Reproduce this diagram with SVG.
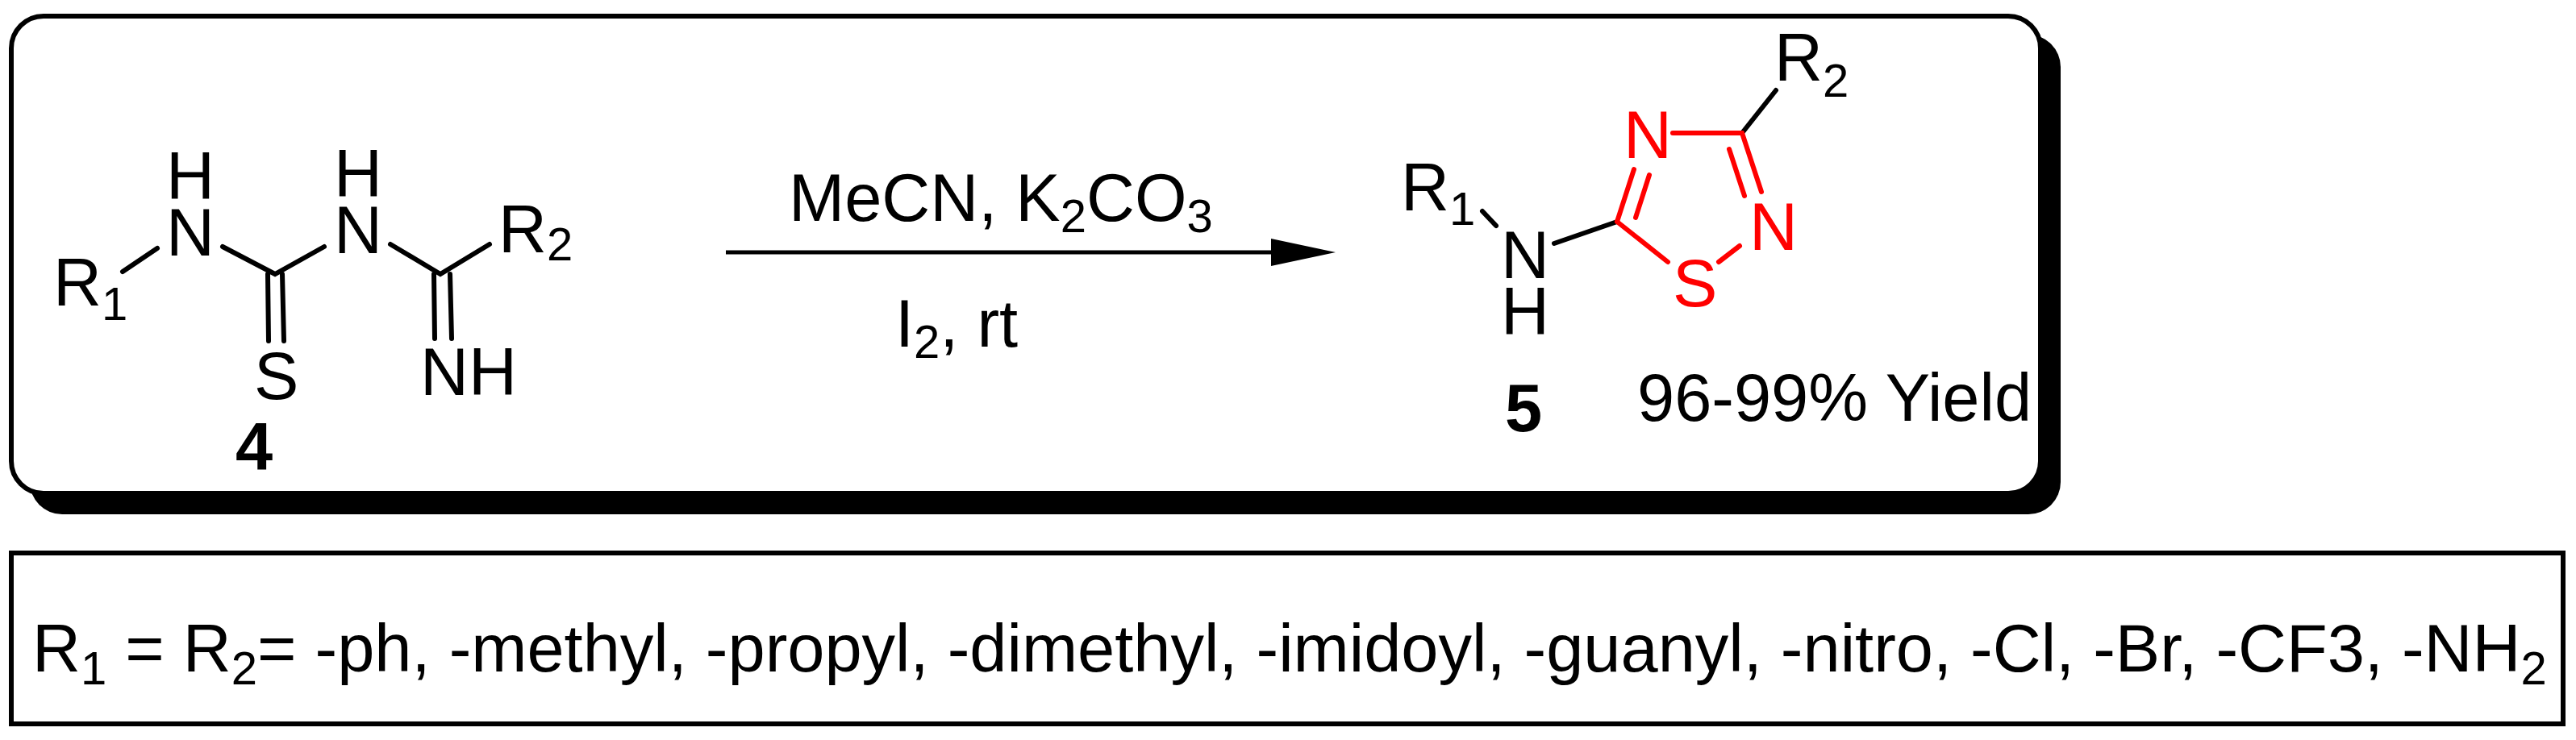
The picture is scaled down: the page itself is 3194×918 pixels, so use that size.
<svg xmlns="http://www.w3.org/2000/svg" width="3194" height="918" viewBox="0 0 3194 918">
<style>
text{font-family:"Liberation Sans",Arial,sans-serif;font-size:83px;fill:#000}
.sub{font-size:58px}
.b{font-weight:bold}
.red{fill:#f00}
.bd{stroke:#000;stroke-width:6;stroke-linecap:round;fill:none}
.rb{stroke:#f00;stroke-width:6;stroke-linecap:round;fill:none}
</style>
<g id="frame">
<rect x="37" y="43" width="2518" height="595" rx="40" fill="#000"/>
<rect x="14" y="20" width="2516" height="592" rx="40" fill="#fff" stroke="#000" stroke-width="6"/>
<rect x="14" y="686" width="3164" height="212" fill="#fff" stroke="#000" stroke-width="6"/>
</g>
<g id="reactant">
<text x="206" y="247">H</text>
<text x="206" y="317">N</text>
<text x="414" y="244">H</text>
<text x="414" y="314">N</text>
<text x="618" y="313">R<tspan class="sub" dy="10">2</tspan></text>
<text x="66" y="379">R<tspan class="sub" dy="18">1</tspan></text>
<text x="315" y="495">S</text>
<text x="521" y="490">NH</text>
<text x="292" y="583" class="b">4</text>
<g class="bd">
<path d="M152,337 L195,308"/><path d="M276,306 L341,340 L402,306"/>
<path d="M332,340 L333,423 M350,340 L352,423"/>
<path d="M484,303 L546,340 L607,303"/>
<path d="M538,340 L539,420 M558,340 L560,420"/>
</g>
</g>
<g id="connectors">
<line x1="900" y1="313" x2="1590" y2="313" stroke="#000" stroke-width="5"/>
<path d="M1576,296 L1656,313 L1576,330 z" fill="#000"/>
</g>
<g id="conditions">
<text x="978" y="274">MeCN, K<tspan class="sub" dy="14">2</tspan><tspan dy="-14">CO</tspan><tspan class="sub" dy="14">3</tspan></text>
<text x="1110" y="430">I<tspan class="sub" dy="14">2</tspan><tspan dy="-14">, rt</tspan></text>
</g>
<g id="product">
<text x="1737" y="261">R<tspan class="sub" dy="18">1</tspan></text>
<text x="1861" y="345">N</text>
<text x="1861" y="415">H</text>
<text x="2200" y="100">R<tspan class="sub" dy="20">2</tspan></text>
<text x="2013" y="196" class="red">N</text>
<text x="2169" y="310" class="red">N</text>
<text x="2074" y="380" class="red">S</text>
<text x="1866" y="535" class="b">5</text>
<text x="2030" y="522">96-99% Yield</text>
<g class="bd"><path d="M1838,262 L1855,280"/><path d="M1927,302 L2005,275"/><path d="M2160,165 L2202,112"/></g>
<g class="rb">
<path d="M2074,165 L2160,165"/>
<path d="M2160,165 L2184,238 M2144,185 L2163,243"/>
<path d="M2005,275 L2026,210 M2045,217 L2028,270"/>
<path d="M2005,275 L2068,325"/>
<path d="M2131,325 L2157,305"/>
</g>
</g>
<g id="legend">
<text x="40" y="833">R<tspan class="sub" dy="16">1</tspan><tspan dy="-16"> = R</tspan><tspan class="sub" dy="16">2</tspan><tspan dy="-16">= -ph, -methyl, -propyl, -dimethyl, -imidoyl, -guanyl, -nitro, -Cl, -Br, -CF3, -NH</tspan><tspan class="sub" dy="16">2</tspan></text>
</g>
</svg>
